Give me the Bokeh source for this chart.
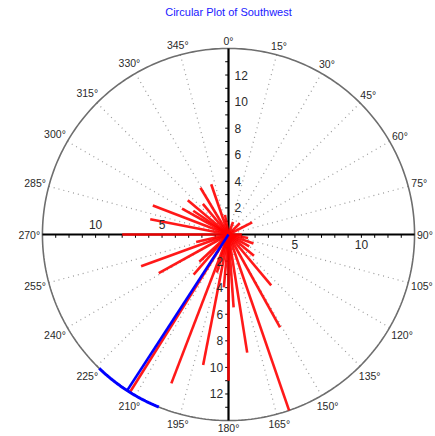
import numpy as np
from bokeh.plotting import figure
from bokeh.embed import file_html
from bokeh.resources import INLINE

# ---------------- data ----------------
title_text = "Circular Plot of Southwest"
r_max = 14
# observations: compass direction (deg, clockwise from north) and length
obs_angles = [63, 140, 151, 161, 171, 180, 191, 201, 212, 241, 250, 270, 281, 291,
              299, 304, 310, 329, 341, 221, 227, 257, 320, 350, 20, 45, 90, 100,
              110, 120, 130, 176, 185, 197]
obs_lengths = [2.0, 5.0, 8.0, 14.0, 9.0, 11.0, 10.0, 12.0, 14.0, 6.0, 7.0, 8.0, 6.0, 6.1,
               4.0, 3.2, 4.0, 4.1, 4.0, 4.0, 3.0, 2.5, 3.0, 1.5, 1.0, 1.2, 1.0, 1.5,
               2.0, 1.8, 2.5, 5.5, 4.0, 3.0]
mean_angle = 213
mean_length = 14
arc_low = 202
arc_high = 224
spoke_angles = [0, 15, 30, 45, 60, 75, 90, 105, 120, 135, 150, 165,
                180, 195, 210, 225, 240, 255, 270, 285, 300, 315, 330, 345]
angle_labels = ["0°", "15°", "30°", "45°", "60°", "75°", "90°", "105°", "120°", "135°",
                "150°", "165°", "180°", "195°", "210°", "225°", "240°", "255°", "270°",
                "285°", "300°", "315°", "330°", "345°"]
vertical_ticks = [2, 4, 6, 8, 10, 12]
horizontal_ticks = [5, 10]

# ---------------- layout ----------------
W, H = 435, 436
s = 13.29            # px per unit
cx_px, cy_px = 228, 234
x0 = -cx_px / s
x1 = (W - cx_px) / s
y1 = cy_px / s
y0 = -(H - cy_px) / s

p = figure(width=W, height=H, x_range=(x0, x1), y_range=(y0, y1),
           output_backend="svg", toolbar_location=None, min_border=0,
           background_fill_color="white", border_fill_color="white")
p.axis.visible = False
p.grid.visible = False
p.outline_line_color = None


def pol(a_deg, r):
    a = np.radians(np.asarray(a_deg, dtype=float))
    return np.asarray(r) * np.sin(a), np.asarray(r) * np.cos(a)


# dotted spokes
sp = [a for a in spoke_angles if a % 90 != 0]
sx, sy = pol(sp, r_max)
p.segment(x0=[0] * len(sp), y0=[0] * len(sp), x1=sx, y1=sy,
          line_color="#9a9a9a", line_width=1.2, line_dash="1 4")

# outer circle
ca = np.linspace(0, 360, 361)
cxs, cys = pol(ca, r_max)
p.line(cxs, cys, line_color="#6e6e6e", line_width=1.6)

# axes lines
p.segment(x0=[-r_max, 0], y0=[0, -r_max], x1=[r_max, 0], y1=[0, r_max],
          line_color="black", line_width=2.2)
# small ticks on axes
tk = [t for t in range(-r_max + 1, r_max) if t != 0]
p.segment(x0=[-0.25] * len(tk), y0=tk, x1=[0] * len(tk), y1=tk,
          line_color="black", line_width=1)
p.segment(x0=tk, y0=[0] * len(tk), x1=tk, y1=[-0.25] * len(tk),
          line_color="black", line_width=1)

# observation vectors
ox, oy = pol(obs_angles, obs_lengths)
p.segment(x0=[0] * len(ox), y0=[0] * len(oy), x1=ox, y1=oy,
          line_color="#ff0000", line_width=2.6, line_alpha=0.9)

# mean vector and confidence arc
mx, my = pol([mean_angle], [mean_length])
p.segment(x0=[0], y0=[0], x1=mx, y1=my, line_color="#0000ff", line_width=2.5)
aa = np.linspace(arc_low, arc_high, 40)
ax_, ay_ = pol(aa, r_max)
p.line(ax_, ay_, line_color="#0000ff", line_width=3)

# angle labels
font = "Liberation Sans"
fs = 10.5
lab_x, lab_y = [], []
for a, lab in zip(spoke_angles, angle_labels):
    w = (len(lab) * 5.6) / s
    h = 10.5 / s
    t = np.radians(a)
    r = 14.15 + 0.5 * w * abs(np.sin(t)) + 0.5 * h * abs(np.cos(t))
    x, y = pol([a], [r])
    lab_x.append(float(x[0]))
    lab_y.append(float(y[0]))
p.text(x=lab_x, y=lab_y, text=angle_labels, text_align="center",
       text_baseline="middle", text_font_size=f"{fs}px", text_color="#2a2a2a",
       text_font={"value": font})

# vertical axis labels: above (right of axis), below (left of axis)
vt = vertical_ticks
p.text(x=[0.45] * len(vt), y=vt, text=[str(v) for v in vt], text_align="left",
       text_baseline="middle", text_font_size="12px", text_color="#2a2a2a",
       text_font={"value": font})
p.text(x=[-0.4] * len(vt), y=[-v for v in vt], text=[str(v) for v in vt],
       text_align="right", text_baseline="middle", text_font_size="12px",
       text_color="#2a2a2a", text_font={"value": font})
# horizontal axis labels: right (below axis), left (above axis)
ht = horizontal_ticks
p.text(x=ht, y=[-0.45] * len(ht), text=[str(v) for v in ht], text_align="center",
       text_baseline="top", text_font_size="12px", text_color="#2a2a2a",
       text_font={"value": font})
p.text(x=[-v for v in ht], y=[0.45] * len(ht), text=[str(v) for v in ht],
       text_align="center", text_baseline="bottom", text_font_size="12px",
       text_color="#2a2a2a", text_font={"value": font})

# title
p.text(x=[0.0], y=[y1 - 0.9], text=[title_text], text_align="center",
       text_baseline="middle", text_font_size="11px", text_color="#2020ff",
       text_font={"value": font})

open("out.html", "w").write(file_html(p, INLINE))
